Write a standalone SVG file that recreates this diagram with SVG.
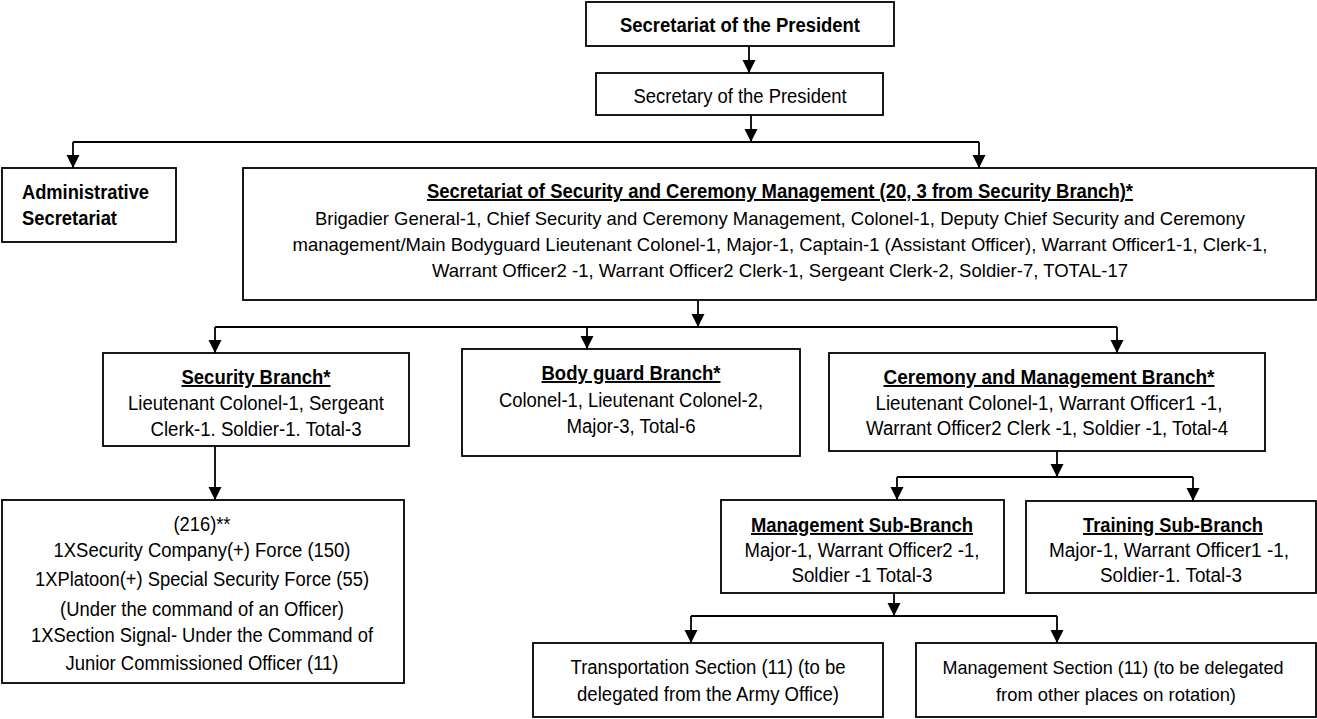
<svg xmlns="http://www.w3.org/2000/svg" width="1317" height="719" viewBox="0 0 1317 719">
<style>
.box{fill:#fff;stroke:#000;stroke-width:1.8}
.t{font-family:"Liberation Sans Narrow","Liberation Sans",Arial,sans-serif;font-size:19.5px;fill:#000;text-anchor:middle}
.sm{font-size:19px}
.lg{font-size:20px}
.b{font-weight:bold}
.u{text-decoration:underline}
.s{text-anchor:start}
.c{stroke:#000;stroke-width:1.8;fill:none;marker-end:url(#arr)}
.l{stroke:#000;stroke-width:1.8;fill:none}
</style>
<defs>
<marker id="arr" markerUnits="userSpaceOnUse" markerWidth="14" markerHeight="14" refX="13" refY="6.5" orient="auto">
<path d="M0,0 L13,6.5 L0,13 z" fill="#000"/>
</marker>
</defs>
<rect width="1317" height="719" fill="#fff"/>

<g id="connectors">
<path class="c" d="M749,46 V73"/>
<path class="c" d="M751,115 V142"/>
<path class="l" d="M73,142 H979"/>
<path class="c" d="M73,142 V168"/>
<path class="c" d="M979,142 V168"/>
<path class="c" d="M698,300 V327"/>
<path class="l" d="M215,327 H1117"/>
<path class="c" d="M215,327 V353"/>
<path class="c" d="M587,327 V349"/>
<path class="c" d="M1117,327 V353"/>
<path class="c" d="M215,446 V500"/>
<path class="c" d="M1057,451 V477"/>
<path class="l" d="M897,477 H1193"/>
<path class="c" d="M897,477 V500"/>
<path class="c" d="M1193,477 V501"/>
<path class="c" d="M894,593 V616"/>
<path class="l" d="M691,616 H1057"/>
<path class="c" d="M691,616 V643"/>
<path class="c" d="M1057,616 V643"/>
</g>

<g id="secretariat-president">
<rect class="box" x="586" y="2" width="308" height="44"/>
<text class="t b lg" x="740" y="32" textLength="240" lengthAdjust="spacingAndGlyphs">Secretariat of the President</text>
</g>

<g id="secretary-president">
<rect class="box" x="596" y="73" width="287" height="42"/>
<text class="t lg" x="740" y="103" textLength="213" lengthAdjust="spacingAndGlyphs">Secretary of the President</text>
</g>

<g id="administrative-secretariat">
<rect class="box" x="2" y="168" width="174" height="74"/>
<text class="t b s lg" x="22" y="199" textLength="127" lengthAdjust="spacingAndGlyphs">Administrative</text>
<text class="t b s lg" x="22" y="225" textLength="95" lengthAdjust="spacingAndGlyphs">Secretariat</text>
</g>

<g id="security-ceremony-secretariat">
<rect class="box" x="243" y="168" width="1073" height="132"/>
<text class="t b u" x="780" y="198" textLength="706" lengthAdjust="spacingAndGlyphs">Secretariat of Security and Ceremony Management (20, 3 from Security Branch)*</text>
<text class="t sm" x="780" y="225" textLength="930" lengthAdjust="spacingAndGlyphs">Brigadier General-1, Chief Security and Ceremony Management, Colonel-1, Deputy Chief Security and Ceremony</text>
<text class="t sm" x="780" y="251" textLength="975" lengthAdjust="spacingAndGlyphs">management/Main Bodyguard Lieutenant Colonel-1, Major-1, Captain-1 (Assistant Officer), Warrant Officer1-1, Clerk-1,</text>
<text class="t sm" x="780" y="277" textLength="696" lengthAdjust="spacingAndGlyphs">Warrant Officer2 -1, Warrant Officer2 Clerk-1, Sergeant Clerk-2, Soldier-7, TOTAL-17</text>
</g>

<g id="security-branch">
<rect class="box" x="103" y="353" width="306" height="93"/>
<text class="t b u" x="256" y="384" textLength="149" lengthAdjust="spacingAndGlyphs">Security Branch*</text>
<text class="t" x="256" y="410" textLength="256" lengthAdjust="spacingAndGlyphs">Lieutenant Colonel-1, Sergeant</text>
<text class="t" x="256" y="436" textLength="211" lengthAdjust="spacingAndGlyphs">Clerk-1. Soldier-1. Total-3</text>
</g>

<g id="bodyguard-branch">
<rect class="box" x="462" y="349" width="338" height="107"/>
<text class="t b u" x="631" y="380" textLength="179" lengthAdjust="spacingAndGlyphs">Body guard Branch*</text>
<text class="t" x="631" y="407" textLength="264" lengthAdjust="spacingAndGlyphs">Colonel-1, Lieutenant Colonel-2,</text>
<text class="t" x="631" y="433" textLength="129" lengthAdjust="spacingAndGlyphs">Major-3, Total-6</text>
</g>

<g id="ceremony-management-branch">
<rect class="box" x="829" y="353" width="436" height="98"/>
<text class="t b u" x="1049" y="384" textLength="331" lengthAdjust="spacingAndGlyphs">Ceremony and Management Branch*</text>
<text class="t" x="1049" y="410" textLength="347" lengthAdjust="spacingAndGlyphs">Lieutenant Colonel-1, Warrant Officer1 -1,</text>
<text class="t" x="1047" y="435" textLength="362" lengthAdjust="spacingAndGlyphs">Warrant Officer2 Clerk -1, Soldier -1, Total-4</text>
</g>

<g id="security-forces">
<rect class="box" x="2" y="500" width="402" height="183"/>
<text class="t lg" x="202" y="531" textLength="57" lengthAdjust="spacingAndGlyphs">(216)**</text>
<text class="t lg" x="202" y="557" textLength="297" lengthAdjust="spacingAndGlyphs">1XSecurity Company(+) Force (150)</text>
<text class="t lg" x="202" y="586" textLength="334" lengthAdjust="spacingAndGlyphs">1XPlatoon(+) Special Security Force (55)</text>
<text class="t lg" x="202" y="616" textLength="284" lengthAdjust="spacingAndGlyphs">(Under the command of an Officer)</text>
<text class="t lg" x="202" y="642" textLength="342" lengthAdjust="spacingAndGlyphs">1XSection Signal- Under the Command of</text>
<text class="t lg" x="202" y="670" textLength="273" lengthAdjust="spacingAndGlyphs">Junior Commissioned Officer (11)</text>
</g>

<g id="management-sub-branch">
<rect class="box" x="721" y="500" width="283" height="93"/>
<text class="t b u" x="862" y="532" textLength="222" lengthAdjust="spacingAndGlyphs">Management Sub-Branch</text>
<text class="t" x="862" y="557" textLength="235" lengthAdjust="spacingAndGlyphs">Major-1, Warrant Officer2 -1,</text>
<text class="t" x="862" y="582" textLength="141" lengthAdjust="spacingAndGlyphs">Soldier -1 Total-3</text>
</g>

<g id="training-sub-branch">
<rect class="box" x="1026" y="501" width="290" height="92"/>
<text class="t b u" x="1173" y="532" textLength="180" lengthAdjust="spacingAndGlyphs">Training Sub-Branch</text>
<text class="t" x="1169" y="557" textLength="240" lengthAdjust="spacingAndGlyphs">Major-1, Warrant Officer1 -1,</text>
<text class="t" x="1171" y="582" textLength="142" lengthAdjust="spacingAndGlyphs">Soldier-1. Total-3</text>
</g>

<g id="transportation-section">
<rect class="box" x="533" y="643" width="350" height="74"/>
<text class="t" x="708" y="674" textLength="275" lengthAdjust="spacingAndGlyphs">Transportation Section (11) (to be</text>
<text class="t" x="708" y="701" textLength="262" lengthAdjust="spacingAndGlyphs">delegated from the Army Office)</text>
</g>

<g id="management-section">
<rect class="box" x="916" y="643" width="400" height="74"/>
<text class="t sm" x="1113" y="674" textLength="341" lengthAdjust="spacingAndGlyphs">Management Section (11) (to be delegated</text>
<text class="t sm" x="1116" y="701" textLength="240" lengthAdjust="spacingAndGlyphs">from other places on rotation)</text>
</g>
</svg>
